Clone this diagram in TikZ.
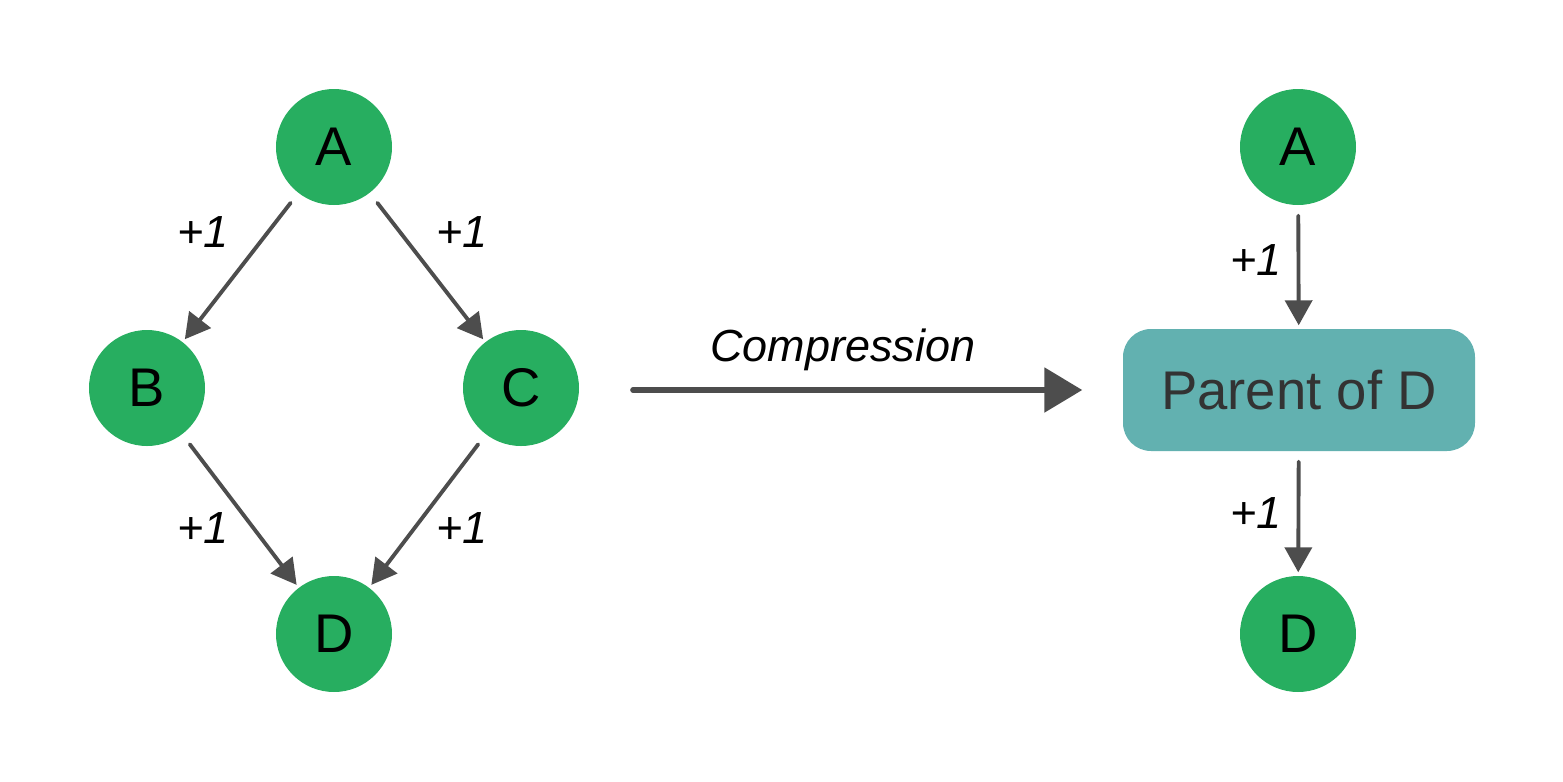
\documentclass[tikz,border=0pt]{standalone}
\usepackage{fontspec}
\setmainfont{Liberation Sans}
\usepackage{xcolor}
\usetikzlibrary{arrows.meta}

\definecolor{vgreen}{HTML}{27AE60}
\definecolor{vteal}{HTML}{62B1B0}
\definecolor{edgegray}{HTML}{4D4D4D}
\definecolor{boxtext}{HTML}{333333}

\begin{document}
\begin{tikzpicture}[
    vertex/.style={circle,fill=vgreen,minimum size=1.16cm,inner sep=0pt,font=\fontsize{15.5}{18}\selectfont},
    parentbox/.style={rectangle,rounded corners=0.28cm,fill=vteal,minimum width=3.52cm,minimum height=1.22cm,text=boxtext,font=\fontsize{15.5}{18}\selectfont},
    edge/.style={edgegray,line width=1.1pt,line cap=round,-{Triangle[length=0.25cm,width=0.27cm]},shorten <=0.12cm,shorten >=0.03cm},
    weight/.style={font=\fontsize{12.8}{15}\selectfont\itshape},
    compress/.style={edgegray,line width=1.6pt,line cap=round,-{Triangle[length=0.38cm,width=0.44cm]},shorten >=0.4cm}
  ]
            % Fix the page size
            \useasboundingbox (0,0) rectangle (15.63,7.81);

            % Draw left graph
            \node[vertex] (A) at (3.34,6.34) {A};
            \node[vertex] (B) at (1.47,3.93) {B};
            \node[vertex] (C) at (5.21,3.93) {C};
            \node[vertex] (D) at (3.34,1.47) {D};

            \draw[edge] (A) -- (B);
            \draw[edge] (A) -- (C);
            \draw[edge] (B) -- (D);
            \draw[edge] (C) -- (D);

            % Edge weights
            \node[weight] (wab) at (2.03,5.49) {+1};
            \node[weight] (wac) at (4.62,5.49) {+1};
            \node[weight] (wbd) at (2.03,2.53) {+1};
            \node[weight] (wcd) at (4.62,2.53) {+1};

            % Draw compressed graph
            \node[vertex] (A2) at (12.98,6.34) {A};
            \node[parentbox] (P) at (12.99,3.91) {Parent of D};
            \node[vertex] (D2) at (12.98,1.47) {D};

            \draw[edge,shorten <=0.1cm] (A2) -- (P);
            \draw[edge,shorten <=0.1cm] (P) -- (D2);

            \node[weight] (wap) at (12.56,5.21) {+1};
            \node[weight] (wpd) at (12.56,2.68) {+1};

            % Compression arrow
            \coordinate (cstart) at (6.33,3.91);
            \draw[compress] (cstart) -- (P.west);
            \node[weight] (comp) at (8.43,4.31) {Compression};
        \end{tikzpicture}
\end{document}
